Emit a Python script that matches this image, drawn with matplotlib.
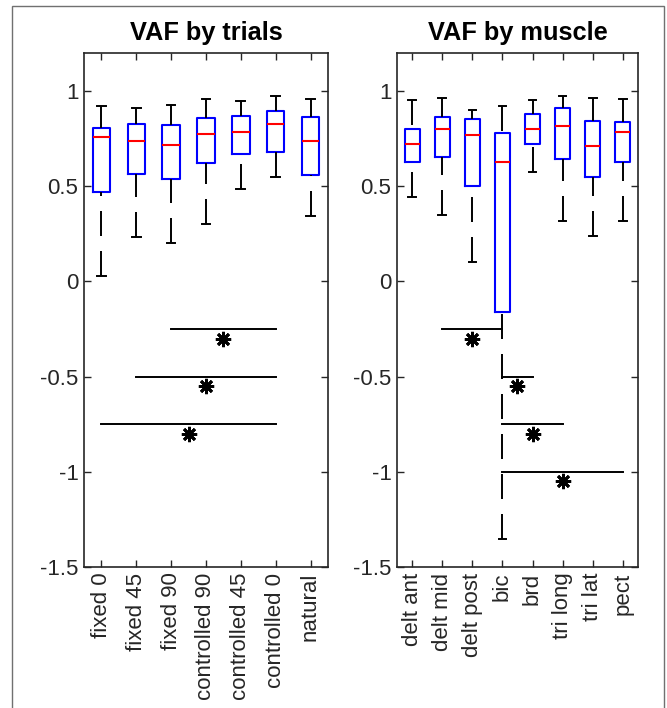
import numpy as np
import matplotlib
matplotlib.use("Agg")
import matplotlib.pyplot as plt
from matplotlib.patches import Rectangle
from matplotlib.ticker import FixedLocator, FixedFormatter

plt.rcParams['font.family'] = ['Liberation Sans', 'DejaVu Sans']
plt.rcParams['lines.scale_dashes'] = False

# ---- data ----
trial_names = ["fixed 0", "fixed 45", "fixed 90", "controlled 90",
               "controlled 45", "controlled 0", "natural"]
trial_lo = [0.031, 0.232, 0.201, 0.304, 0.487, 0.546, 0.346]
trial_q1 = [0.470, 0.564, 0.538, 0.621, 0.668, 0.682, 0.557]
trial_med = [0.757, 0.738, 0.714, 0.773, 0.787, 0.827, 0.735]
trial_q3 = [0.808, 0.826, 0.819, 0.857, 0.869, 0.897, 0.866]
trial_hi = [0.919, 0.909, 0.928, 0.956, 0.949, 0.974, 0.956]
# significance pairs (1-based positions), bar height
trial_sig = [(3, 6, -0.25), (2, 6, -0.5), (1, 6, -0.75)]

muscle_names = ["delt ant", "delt mid", "delt post", "bic",
                "brd", "tri long", "tri lat", "pect"]
muscle_lo = [0.442, 0.347, 0.100, -1.351, 0.576, 0.318, 0.237, 0.318]
muscle_q1 = [0.627, 0.653, 0.499, -0.161, 0.721, 0.642, 0.551, 0.628]
muscle_med = [0.721, 0.803, 0.771, 0.625, 0.803, 0.817, 0.710, 0.785]
muscle_q3 = [0.803, 0.864, 0.852, 0.778, 0.878, 0.911, 0.841, 0.838]
muscle_hi = [0.953, 0.965, 0.902, 0.921, 0.953, 0.976, 0.963, 0.956]
muscle_sig = [(2, 4, -0.25), (4, 5, -0.5), (4, 6, -0.75), (4, 8, -1.0)]

yticks = [-1.5, -1, -0.5, 0, 0.5, 1]
ytick_labels = ["-1.5", "-1", "-0.5", "0", "0.5", "1"]

txt = '#262626'


def draw(ax, names, lo, q1, med, q3, hi, sig, title):
    stats = []
    for i in range(len(names)):
        stats.append(dict(whislo=lo[i], q1=q1[i], med=med[i], q3=q3[i],
                          whishi=hi[i], fliers=[]))
    pos = np.arange(1, len(names) + 1)
    res = ax.bxp(stats, positions=pos, widths=0.5, capwidths=0.25,
                 showfliers=False,
                 boxprops=dict(color='#0000ff', linewidth=1.5),
                 medianprops=dict(color='#ff0000', linewidth=1.5),
                 whiskerprops=dict(color='k', linewidth=1.4,
                                   linestyle=(0, (18, 10.8))),
                 capprops=dict(color='k', linewidth=1.4))
    # dashes start at the whisker end, like MATLAB
    for w in res['whiskers']:
        w.set_ydata(w.get_ydata()[::-1])

    for a, b, yy in sig:
        ax.plot([a, b], [yy, yy], color='k', lw=1.4)
        ax.plot([(a + b) / 2], [yy - 0.05], marker=(8, 2, 0), ms=11,
                mew=2, color='k')

    ax.set_xlim(0.5, len(names) + 0.5)
    ax.set_ylim(-1.5, 1.2)
    ax.set_xticks(pos)
    ax.set_xticklabels(names, rotation=90, fontsize=16, color=txt)
    ax.yaxis.set_major_locator(FixedLocator(yticks))
    ax.yaxis.set_major_formatter(FixedFormatter(ytick_labels))
    ax.tick_params(axis='y', labelsize=16, labelcolor=txt)
    ax.tick_params(direction='in', length=5, width=1, color=txt,
                   top=True, right=True, pad=4)
    for s in ax.spines.values():
        s.set_color(txt)
        s.set_linewidth(1.2)
    ax.set_title(title, fontsize=18.3, fontweight='bold', pad=9, color='k')


fig = plt.figure(figsize=(6.67, 7.08), dpi=100)
ax1 = fig.add_axes([0.1259, 0.1992, 0.3658, 0.7260])
ax2 = fig.add_axes([0.5952, 0.1992, 0.3613, 0.7260])

draw(ax1, trial_names, trial_lo, trial_q1, trial_med, trial_q3, trial_hi,
     trial_sig, "VAF by trials")
draw(ax2, muscle_names, muscle_lo, muscle_q1, muscle_med, muscle_q3,
     muscle_hi, muscle_sig, "VAF by muscle")

fig.add_artist(Rectangle((12 / 667, -0.1), 652 / 667, 1.0915,
                         transform=fig.transFigure, fill=False,
                         edgecolor='#707070', lw=1))

fig.savefig("out.png", dpi=100)
